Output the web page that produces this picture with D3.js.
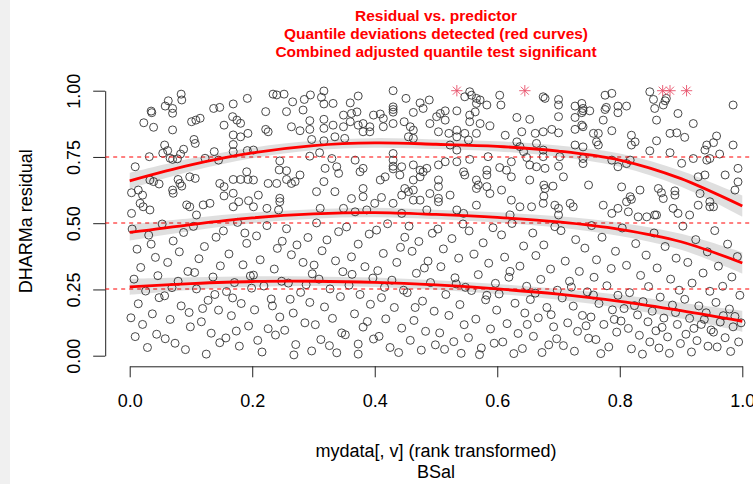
<!DOCTYPE html>
<html><head><meta charset="utf-8">
<script src="https://cdn.jsdelivr.net/npm/d3@7"></script>
<style>body{margin:0;background:#fff}svg{display:block}text{font-family:"Liberation Sans",Arial,sans-serif}</style>
</head><body>
<script>
// ---- data ----
const titleLines = ["Residual vs. predictor","Quantile deviations detected (red curves)","Combined adjusted quantile test significant"];
const xLabel = ["mydata[, v] (rank transformed)","BSal"];
const yLabel = "DHARMa residual";
const xTicks = [0,0.2,0.4,0.6,0.8,1.0];
const yTicks = [0,0.25,0.5,0.75,1.0];
const quantileLevels = [0.25,0.5,0.75];
const curveX = [0,0.1,0.2,0.3,0.4,0.5,0.6,0.7,0.8,0.9,1.0];
const q25 = [0.26,0.272,0.28,0.281,0.277,0.267,0.252,0.232,0.205,0.17,0.13];
const q50 = [0.465,0.495,0.52,0.535,0.54,0.533,0.522,0.505,0.477,0.43,0.35];
const q75 = [0.66,0.72,0.765,0.793,0.803,0.798,0.79,0.772,0.738,0.668,0.565];
const hw25 = [0.03,0.024,0.02,0.018,0.018,0.018,0.019,0.021,0.025,0.03,0.04];
const hw50 = [0.03,0.024,0.02,0.018,0.018,0.018,0.019,0.021,0.025,0.03,0.04];
const hw75 = [0.03,0.024,0.02,0.018,0.018,0.018,0.019,0.021,0.025,0.03,0.04];
const outlierX = [0.534,0.645,0.870,0.882,0.909];
// residuals above ~0.5
const pointsUpper = [
[0.084,0.987],[0.085,0.965],[0.063,0.962],[0.058,0.942],[0.070,0.933],[0.070,0.915],[0.035,0.923],[0.036,0.917],[0.023,0.879],[0.039,0.862],[0.070,0.852],[0.101,0.883],[0.108,0.889],[0.115,0.896],[0.137,0.933],[0.147,0.937],[0.169,0.950],[0.192,0.971],[0.168,0.902],[0.154,0.870],[0.175,0.889],[0.181,0.877],[0.169,0.833],[0.193,0.839],[0.181,0.826],[0.169,0.797],[0.169,0.770],[0.192,0.774],[0.202,0.776],[0.222,0.921],[0.234,0.987],[0.240,0.984],[0.252,0.987],[0.266,0.958],[0.256,0.921],[0.222,0.854],[0.226,0.845],[0.285,0.967],[0.283,0.927],[0.295,0.984],[0.313,0.975],[0.317,0.999],[0.317,0.950],[0.317,0.892],[0.317,0.858],[0.294,0.887],[0.294,0.854],[0.278,0.849],[0.264,0.864],[0.297,0.816],[0.317,0.811],[0.105,0.816],[0.107,0.801],[0.057,0.795],[0.062,0.774],[0.054,0.764],[0.088,0.779],[0.083,0.761],[0.032,0.751],[0.070,0.741],[0.078,0.743],[0.066,0.745],[0.009,0.713],[0.123,0.745],[0.138,0.770],[0.145,0.738],[0.245,0.735],[0.244,0.701],[0.256,0.698],[0.256,0.665],[0.270,0.657],[0.264,0.650],[0.278,0.682],[0.294,0.753],[0.310,0.766],[0.319,0.707],[0.317,0.657],[0.305,0.619],[0.245,0.594],[0.245,0.581],[0.226,0.650],[0.240,0.650],[0.224,0.556],[0.243,0.550],[0.191,0.694],[0.193,0.665],[0.181,0.665],[0.169,0.665],[0.202,0.663],[0.147,0.650],[0.154,0.638],[0.154,0.603],[0.169,0.613],[0.178,0.581],[0.194,0.585],[0.202,0.562],[0.169,0.562],[0.210,0.606],[0.079,0.665],[0.082,0.650],[0.085,0.640],[0.070,0.625],[0.071,0.613],[0.098,0.675],[0.107,0.669],[0.120,0.569],[0.131,0.575],[0.093,0.569],[0.098,0.562],[0.003,0.615],[0.014,0.625],[0.021,0.606],[0.017,0.575],[0.022,0.562],[0.033,0.550],[0.033,0.663],[0.039,0.657],[0.048,0.648],[0.311,0.556],[0.003,0.537],[0.109,0.531],
[0.332,0.952],[0.360,0.954],[0.373,0.980],[0.371,0.920],[0.349,0.908],[0.362,0.914],[0.360,0.883],[0.373,0.870],[0.332,0.870],[0.349,0.864],[0.335,0.826],[0.351,0.820],[0.430,0.939],[0.430,0.929],[0.430,0.919],[0.430,0.876],[0.414,0.895],[0.409,0.912],[0.398,0.908],[0.414,0.864],[0.392,0.864],[0.392,0.845],[0.381,0.876],[0.381,0.845],[0.430,1.000],[0.451,0.971],[0.474,0.954],[0.489,0.965],[0.479,0.933],[0.463,0.918],[0.448,0.883],[0.458,0.864],[0.490,0.876],[0.507,0.914],[0.501,0.902],[0.515,0.924],[0.515,0.889],[0.504,0.845],[0.521,0.839],[0.534,0.851],[0.534,0.826],[0.547,0.839],[0.553,0.814],[0.566,0.839],[0.572,0.876],[0.555,0.908],[0.555,0.883],[0.564,0.920],[0.566,0.952],[0.572,0.965],[0.583,0.946],[0.588,0.867],[0.604,0.983],[0.606,0.946],[0.534,0.924],[0.555,0.996],[0.558,0.983],[0.547,0.977],[0.566,0.971],[0.613,0.832],[0.632,0.899],[0.640,0.845],[0.653,0.892],[0.662,0.839],[0.664,0.801],[0.632,0.807],[0.637,0.789],[0.643,0.770],[0.648,0.748],[0.463,0.851],[0.463,0.820],[0.455,0.826],[0.523,0.795],[0.534,0.776],[0.430,0.763],[0.430,0.738],[0.430,0.715],[0.430,0.705],[0.444,0.713],[0.463,0.720],[0.474,0.700],[0.485,0.707],[0.479,0.694],[0.504,0.720],[0.515,0.732],[0.534,0.732],[0.555,0.741],[0.585,0.751],[0.545,0.694],[0.547,0.682],[0.566,0.663],[0.569,0.644],[0.583,0.700],[0.583,0.682],[0.604,0.710],[0.615,0.700],[0.623,0.732],[0.623,0.675],[0.653,0.720],[0.653,0.663],[0.664,0.713],[0.607,0.625],[0.623,0.587],[0.637,0.562],[0.656,0.562],[0.621,0.531],[0.330,0.744],[0.338,0.713],[0.341,0.688],[0.368,0.738],[0.381,0.707],[0.376,0.694],[0.409,0.663],[0.417,0.675],[0.441,0.682],[0.463,0.663],[0.474,0.675],[0.381,0.631],[0.381,0.600],[0.362,0.593],[0.349,0.556],[0.335,0.619],[0.449,0.631],[0.455,0.619],[0.463,0.625],[0.444,0.606],[0.463,0.587],[0.474,0.587],[0.490,0.612],[0.504,0.663],[0.504,0.638],[0.504,0.594],[0.504,0.581],[0.523,0.606],[0.430,0.575],[0.444,0.537],[0.485,0.550],[0.400,0.575],[0.411,0.597],[0.387,0.550],[0.368,0.543],[0.566,0.568],[0.566,0.631],[0.583,0.638],[0.588,0.612],[0.534,0.550],[0.545,0.537],
[0.675,0.977],[0.678,0.971],[0.700,0.967],[0.700,0.946],[0.727,0.942],[0.738,0.952],[0.740,0.933],[0.740,0.924],[0.751,0.924],[0.738,0.917],[0.776,0.983],[0.787,0.990],[0.776,0.929],[0.778,0.937],[0.797,0.942],[0.797,0.917],[0.811,0.942],[0.773,0.889],[0.787,0.849],[0.765,0.839],[0.765,0.795],[0.762,0.807],[0.757,0.839],[0.738,0.870],[0.740,0.864],[0.727,0.854],[0.727,0.899],[0.700,0.902],[0.700,0.841],[0.689,0.854],[0.675,0.845],[0.675,0.776],[0.675,0.751],[0.678,0.707],[0.702,0.751],[0.700,0.715],[0.708,0.675],[0.691,0.640],[0.676,0.644],[0.678,0.631],[0.676,0.602],[0.675,0.575],[0.694,0.568],[0.700,0.556],[0.700,0.531],[0.719,0.575],[0.724,0.562],[0.727,0.795],[0.740,0.788],[0.740,0.744],[0.740,0.725],[0.749,0.644],[0.787,0.738],[0.797,0.713],[0.811,0.725],[0.817,0.738],[0.803,0.637],[0.833,0.625],[0.817,0.600],[0.819,0.590],[0.811,0.581],[0.773,0.568],[0.787,0.537],[0.797,0.556],[0.814,0.543],[0.830,0.524],[0.844,0.524],[0.857,0.531],[0.863,0.631],[0.871,0.593],[0.868,0.615],[0.890,0.622],[0.890,0.606],[0.887,0.556],[0.895,0.537],[0.819,0.832],[0.825,0.807],[0.819,0.795],[0.849,0.996],[0.855,0.967],[0.857,0.933],[0.860,0.889],[0.860,0.811],[0.849,0.773],[0.871,0.946],[0.874,0.962],[0.876,0.971],[0.895,0.914],[0.893,0.841],[0.882,0.839],[0.882,0.766],[0.901,0.726],[0.906,0.824],[0.920,0.876],[0.985,0.946],[0.958,0.829],[0.953,0.804],[0.942,0.795],[0.939,0.776],[0.947,0.744],[0.942,0.738],[0.920,0.744],[0.963,0.761],[0.928,0.675],[0.939,0.682],[0.985,0.795],[0.993,0.707],[0.993,0.656],[0.988,0.625],[0.972,0.682],[0.931,0.612],[0.947,0.581],[0.953,0.562],[0.947,0.562],[0.928,0.568],[0.914,0.531],[0.860,0.531]
];
// residuals below ~0.5
const pointsLower = [
[0.004,0.478],[0.012,0.402],[0.031,0.455],[0.018,0.333],[0.042,0.371],[0.007,0.289],[0.026,0.244],[0.046,0.302],[0.014,0.196],[0.037,0.158],[0.021,0.118],[0.009,0.072],[0.044,0.081],[0.029,0.031],[0.048,0.219],[0.035,0.421],[0.002,0.143],
[0.053,0.497],[0.071,0.433],[0.088,0.465],[0.062,0.352],[0.095,0.318],[0.079,0.281],[0.057,0.226],[0.084,0.188],[0.066,0.137],[0.099,0.109],[0.074,0.047],[0.091,0.023],[0.058,0.064],[0.081,0.392],[0.069,0.257],[0.097,0.163],
[0.104,0.488],[0.122,0.412],[0.141,0.447],[0.113,0.366],[0.136,0.297],[0.148,0.339],[0.109,0.252],[0.128,0.209],[0.145,0.172],[0.117,0.128],[0.133,0.085],[0.125,0.006],[0.147,0.049],[0.106,0.314],[0.139,0.231],[0.119,0.178],
[0.153,0.471],[0.176,0.503],[0.191,0.424],[0.162,0.384],[0.185,0.343],[0.171,0.276],[0.197,0.301],[0.158,0.242],[0.182,0.197],[0.166,0.151],[0.194,0.112],[0.157,0.067],[0.179,0.036],[0.188,0.463],[0.168,0.218],[0.199,0.255],[0.174,0.093],
[0.207,0.452],[0.224,0.491],[0.241,0.405],[0.213,0.362],[0.236,0.327],[0.248,0.281],[0.219,0.263],[0.231,0.214],[0.204,0.173],[0.245,0.146],[0.226,0.102],[0.209,0.058],[0.238,0.078],[0.216,0.014],[0.249,0.432],[0.202,0.304],[0.233,0.188],
[0.256,0.479],[0.273,0.418],[0.291,0.446],[0.264,0.381],[0.283,0.352],[0.298,0.309],[0.259,0.274],[0.279,0.239],[0.294,0.201],[0.267,0.161],[0.286,0.124],[0.253,0.096],[0.271,0.042],[0.268,0.003],[0.297,0.018],[0.288,0.268],[0.262,0.213],
[0.305,0.501],[0.322,0.437],[0.341,0.468],[0.314,0.396],[0.336,0.358],[0.348,0.317],[0.309,0.289],[0.327,0.252],[0.344,0.223],[0.318,0.184],[0.331,0.141],[0.303,0.117],[0.346,0.086],[0.326,0.038],[0.312,0.061],[0.338,0.011],[0.301,0.342],
[0.354,0.486],[0.373,0.421],[0.391,0.459],[0.362,0.373],[0.384,0.336],[0.397,0.293],[0.358,0.266],[0.376,0.231],[0.393,0.194],[0.367,0.158],[0.381,0.108],[0.352,0.079],[0.373,0.044],[0.373,0.006],[0.398,0.063],[0.363,0.307],[0.388,0.129],
[0.403,0.474],[0.421,0.498],[0.442,0.409],[0.414,0.386],[0.436,0.352],[0.405,0.321],[0.428,0.285],[0.447,0.247],[0.411,0.219],[0.432,0.182],[0.418,0.139],[0.444,0.104],[0.407,0.073],[0.425,0.031],[0.439,0.012],[0.449,0.447],[0.416,0.258],
[0.456,0.489],[0.472,0.431],[0.494,0.462],[0.461,0.394],[0.487,0.357],[0.468,0.311],[0.491,0.276],[0.453,0.238],[0.478,0.206],[0.497,0.168],[0.464,0.133],[0.483,0.092],[0.458,0.058],[0.476,0.021],[0.499,0.041],[0.481,0.331],[0.466,0.182],
[0.503,0.478],[0.526,0.442],[0.544,0.497],[0.512,0.403],[0.537,0.368],[0.508,0.336],[0.531,0.294],[0.548,0.258],[0.516,0.231],[0.539,0.193],[0.521,0.152],[0.546,0.117],[0.506,0.086],[0.529,0.053],[0.541,0.009],[0.514,0.024],[0.533,0.271],
[0.554,0.471],[0.577,0.426],[0.593,0.483],[0.562,0.383],[0.586,0.349],[0.569,0.306],[0.597,0.273],[0.558,0.246],[0.581,0.211],[0.599,0.172],[0.565,0.138],[0.589,0.101],[0.553,0.068],[0.574,0.029],[0.595,0.047],[0.571,0.004],[0.583,0.228],
[0.607,0.456],[0.624,0.499],[0.643,0.414],[0.612,0.372],[0.637,0.338],[0.619,0.296],[0.648,0.262],[0.603,0.233],[0.629,0.198],[0.645,0.161],[0.616,0.121],[0.634,0.084],[0.609,0.052],[0.641,0.027],[0.627,0.008],[0.649,0.118],[0.621,0.318],
[0.658,0.463],[0.676,0.418],[0.694,0.487],[0.663,0.378],[0.687,0.327],[0.671,0.288],[0.698,0.247],[0.654,0.212],[0.681,0.182],[0.667,0.143],[0.692,0.109],[0.659,0.073],[0.684,0.041],[0.673,0.012],[0.697,0.064],[0.688,0.155],[0.662,0.236],
[0.704,0.472],[0.728,0.438],[0.743,0.406],[0.711,0.357],[0.734,0.318],[0.718,0.281],[0.747,0.241],[0.706,0.218],[0.724,0.187],[0.739,0.152],[0.715,0.124],[0.731,0.092],[0.749,0.066],[0.708,0.038],[0.726,0.017],[0.745,0.113],[0.721,0.259],
[0.754,0.491],[0.771,0.447],[0.793,0.394],[0.762,0.362],[0.786,0.329],[0.758,0.296],[0.779,0.264],[0.797,0.228],[0.766,0.197],[0.788,0.173],[0.753,0.146],[0.774,0.118],[0.795,0.089],[0.761,0.061],[0.782,0.033],[0.769,0.008],[0.791,0.137],[0.757,0.229],
[0.804,0.482],[0.826,0.423],[0.843,0.379],[0.811,0.341],[0.834,0.303],[0.847,0.261],[0.816,0.238],[0.838,0.204],[0.807,0.178],[0.829,0.154],[0.846,0.128],[0.814,0.103],[0.832,0.077],[0.849,0.052],[0.819,0.026],[0.837,0.006],[0.802,0.131],[0.824,0.189],
[0.856,0.463],[0.874,0.412],[0.892,0.368],[0.861,0.331],[0.883,0.289],[0.897,0.247],[0.866,0.221],[0.886,0.191],[0.853,0.168],[0.872,0.142],[0.894,0.118],[0.859,0.094],[0.878,0.071],[0.899,0.046],[0.864,0.029],[0.881,0.009],[0.891,0.163],[0.869,0.107],
[0.903,0.489],[0.924,0.438],[0.943,0.392],[0.911,0.352],[0.936,0.312],[0.918,0.274],[0.947,0.243],[0.906,0.213],[0.929,0.188],[0.941,0.162],[0.914,0.141],[0.933,0.118],[0.949,0.097],[0.908,0.081],[0.926,0.057],[0.944,0.036],[0.917,0.014],[0.938,0.137],[0.921,0.103],
[0.955,0.472],[0.976,0.421],[0.992,0.374],[0.961,0.338],[0.983,0.297],[0.968,0.262],[0.996,0.228],[0.957,0.201],[0.979,0.176],[0.988,0.148],[0.964,0.127],[0.985,0.109],[0.953,0.089],[0.972,0.068],[0.994,0.052],[0.959,0.033],[0.981,0.016],[0.969,0.151],[0.998,0.124]
];
const points = pointsUpper.concat(pointsLower);

// ---- chart ----
const W = 753, H = 484;
const svg = d3.select("body").append("svg").attr("width", W).attr("height", H);
svg.append("rect").attr("width", 10).attr("height", H).attr("fill", "#f0f0f0");

const x = d3.scaleLinear().domain([0, 1]).range([129.7, 742.3]);
const y = d3.scaleLinear().domain([0, 1]).range([355.7, 90.7]);
const plotL = x(-0.04), plotR = x(1.04), plotT = y(1.04), plotB = y(-0.04);

// title
svg.append("g").selectAll("text").data(titleLines).join("text")
  .attr("x", (plotL + plotR) / 2).attr("y", (d, i) => 20.5 + i * 18)
  .attr("text-anchor", "middle").attr("fill", "#ff0000")
  .attr("font-weight", "bold").attr("font-size", "15.5px").text(d => d);

// axes
const xAxis = svg.append("g").attr("transform", `translate(0,${plotB})`)
  .call(d3.axisBottom(x).tickValues(xTicks).tickFormat(d3.format(".1f")).tickSize(11).tickSizeOuter(0));
xAxis.selectAll("text").attr("y", 41).attr("dy", 0).attr("font-size", "18px").attr("fill", "#000");
const yAxis = svg.append("g").attr("transform", `translate(${plotL},0)`)
  .call(d3.axisLeft(y).tickValues(yTicks).tickFormat(d3.format(".2f")).tickSize(12).tickSizeOuter(0));
yAxis.selectAll("text").attr("transform", "rotate(-90)").attr("x", 0).attr("y", -(plotL - 79.5))
  .attr("dy", 0).attr("text-anchor", "middle").attr("font-size", "18px").attr("fill", "#000");
svg.selectAll(".domain, .tick line").attr("stroke", "#222");
svg.selectAll(".tick text").attr("font-family", "'Liberation Sans', Arial, sans-serif");

// axis titles
svg.append("g").selectAll("text").data(xLabel).join("text")
  .attr("x", (plotL + plotR) / 2).attr("y", (d, i) => 456.5 + i * 21)
  .attr("text-anchor", "middle").attr("font-size", "18px").attr("fill", "#000").text(d => d);
svg.append("text").attr("transform", `translate(32,${(plotT + plotB) / 2 - 2}) rotate(-90)`)
  .attr("text-anchor", "middle").attr("font-size", "18px").attr("fill", "#000").text(yLabel);

// clip for plot region
svg.append("clipPath").attr("id", "clip").append("rect")
  .attr("x", plotL).attr("y", plotT).attr("width", plotR - plotL).attr("height", plotB - plotT);
const plot = svg.append("g").attr("clip-path", "url(#clip)");

// points
plot.append("g").selectAll("circle").data(points).join("circle")
  .attr("cx", d => x(d[0])).attr("cy", d => y(d[1])).attr("r", 4)
  .attr("fill", "none").attr("stroke", "#333").attr("stroke-width", 0.9);

// outliers (asterisks)
const star = "M-5.66,0L5.66,0M0,-5.66L0,5.66M-4,-4L4,4M-4,4L4,-4";
plot.append("g").selectAll("path").data(outlierX).join("path")
  .attr("transform", d => `translate(${x(d)},${y(1)})`).attr("d", star)
  .attr("fill", "none").attr("stroke", "#e8506a").attr("stroke-width", 0.9);

// reference lines (anti-aliased over two pixel rows, like the original)
plot.append("g").selectAll("line").data(quantileLevels).join("line")
  .attr("x1", plotL).attr("x2", plotR)
  .attr("y1", d => Math.round(y(d))).attr("y2", d => Math.round(y(d)))
  .attr("stroke", "#ff0000").attr("stroke-width", 1).attr("stroke-dasharray", "4,4");

// bands and curves
const series = [[q25, hw25], [q50, hw50], [q75, hw75]];
const area = d3.area().x(d => x(d.x)).y0(d => y(d.lo)).y1(d => y(d.hi)).curve(d3.curveCatmullRom);
const line = d3.line().x(d => x(d.x)).y(d => y(d.v)).curve(d3.curveCatmullRom);
series.forEach(([q, hw]) => {
  const pts = curveX.map((cx, i) => ({x: cx, v: q[i], lo: q[i] - hw[i], hi: q[i] + hw[i]}));
  plot.append("path").attr("d", area(pts)).attr("fill", "rgba(0,0,0,0.125)");
  plot.append("path").attr("d", line(pts)).attr("fill", "none").attr("stroke", "#ff0000").attr("stroke-width", 2.8);
});
</script>
</body></html>
